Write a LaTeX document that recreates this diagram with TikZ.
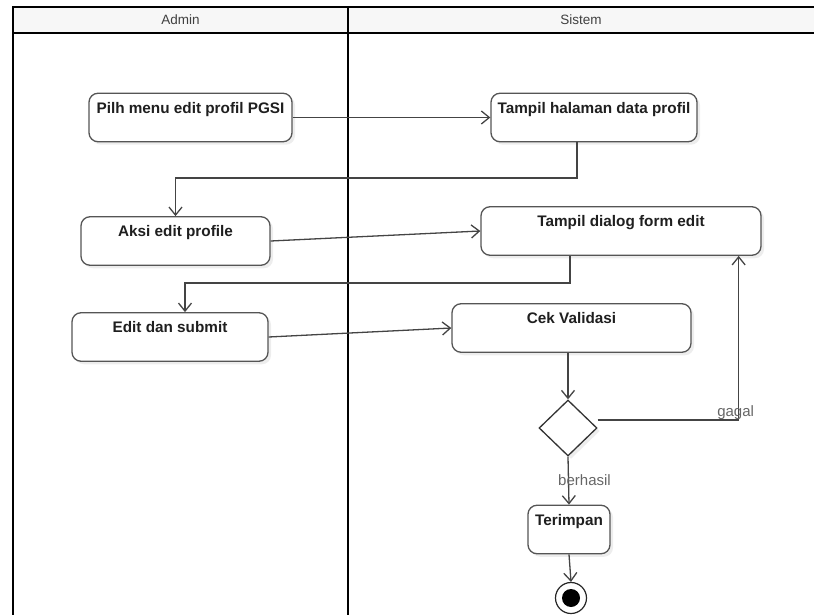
\documentclass[tikz,border=0pt]{standalone}
\usepackage{fontspec}
\setmainfont{Liberation Sans}
\usepackage{xcolor}
\usepackage{tikz}
\usetikzlibrary{arrows.meta, shapes.geometric, shadows}
\definecolor{lineColor}{HTML}{444444}
\definecolor{boxFrame}{HTML}{555555}
\definecolor{labelGray}{HTML}{666666}
\definecolor{headFill}{HTML}{F7F7F7}

\begin{document}
\begin{tikzpicture}[x=1pt, y=-1pt,
    lajur/.style={line width=1.8pt, black},
    kepala/.style={text=black!75, font=\fontsize{13.5}{16}\selectfont},
    aktivitas/.style={draw=boxFrame, line width=1.3pt, rounded corners=9pt, fill=white,
        font=\fontsize{15.3}{18}\selectfont\bfseries, text=black!88,
        text height=16pt, text depth=24.5pt, inner ysep=4pt, inner xsep=2pt,
        drop shadow={shadow xshift=3pt, shadow yshift=-3pt, opacity=0.14}},
    keputusan/.style={diamond, draw=black!80, line width=1.3pt, fill=white,
        minimum width=58pt, minimum height=56pt, inner sep=0pt,
        drop shadow={shadow xshift=3pt, shadow yshift=-3pt, opacity=0.14}},
    akhir/.style={circle, draw=black!85, line width=1.2pt, fill=white,
        minimum size=31pt, inner sep=0pt,
        path picture={\fill[black] (path picture bounding box.center) circle (9pt);}},
    alur/.style={draw=lineColor, line width=1.3pt, -{Straight Barb[length=8pt, width=13pt]}},
    catatan/.style={text=labelGray, font=\fontsize{15}{18}\selectfont}]

    \useasboundingbox (0,0) rectangle (814,615);

    % swimlanes
    \fill[headFill] (13,7) rectangle (814,33);
    \draw[lajur] (814,7) -- (13,7) -- (13,615);
    \draw[lajur] (13,33) -- (814,33);
    \draw[lajur] (348,7) -- (348,615);
    \node[kepala] (admin) at (180.5,20) {Admin};
    \node[kepala] (sistem) at (581,20) {Sistem};

    \node[aktivitas, minimum width=203pt] (pilih) at (190.5,117.5) {Pilh menu edit profil PGSI};
    \node[aktivitas, minimum width=206pt] (halaman) at (594,117.5) {Tampil halaman data profil};
    \node[aktivitas, minimum width=189pt] (aksi) at (175.5,241) {Aksi edit profile};
    \node[aktivitas, minimum width=280pt] (dialog) at (621,231) {Tampil dialog form edit};
    \node[aktivitas, minimum width=196pt] (edit) at (170,337) {Edit dan submit};
    \node[aktivitas, minimum width=239pt] (cek) at (571.5,328) {Cek Validasi};
    \node[keputusan] (dec) at (568,428) {};
    \node[aktivitas, minimum width=82pt] (simpan) at (569,529.5) {Terimpan};
    \node[akhir] (selesai) at (571,598) {};

    \draw[alur] (pilih.east) -- (halaman.west);
    \draw[alur] ([xshift=-17pt]halaman.south) |- ([yshift=38pt]aksi.north) -- (aksi.north);
    \draw[alur] (aksi.east) -- (dialog.west);
    \draw[alur] ([xshift=-51pt]dialog.south) |- ([xshift=15pt, yshift=29pt]edit.north)
        -- ([xshift=15pt]edit.north);
    \draw[alur] (edit.east) -- (cek.west);
    \draw[alur] (cek.south -| dec.north) -- (dec.north);
    \draw[alur] ([yshift=8pt]dec.east) -| node[catatan, pos=0.5, above=-4pt, xshift=-3pt] {gagal}
        ([xshift=-23pt]dialog.south east);
    \draw[alur] (dec.south) -- node[catatan, midway, xshift=16pt] {berhasil} (simpan.north);
    \draw[alur] (simpan.south) -- (selesai.north);
\end{tikzpicture}
\end{document}
